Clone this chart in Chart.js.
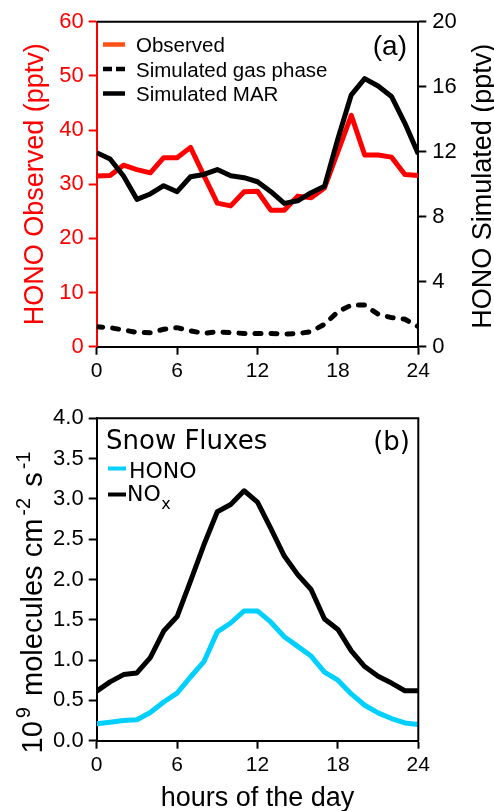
<!DOCTYPE html>
<html>
<head>
<meta charset="utf-8">
<title>HONO diurnal cycle</title>
<script src="https://cdn.jsdelivr.net/npm/chart.js@4.4.0/dist/chart.umd.min.js"></script>
<style>
  html, body { margin: 0; padding: 0; background: #fff; }
  #wrap { position: relative; width: 494px; height: 811px; overflow: hidden; }
  canvas { position: absolute; left: 0; }
  #chartA { top: 0; }
  #chartB { top: 400px; }
</style>
</head>
<body>
<div id="wrap">
  <canvas id="chartA" width="494" height="400"></canvas>
  <canvas id="chartB" width="494" height="411"></canvas>
</div>
<script>
// Hour of day, shared by both panels
const hours = [0, 1, 2, 3, 4, 5, 6, 7, 8, 9, 10, 11, 12, 13, 14, 15, 16, 17, 18, 19, 20, 21, 22, 23, 24];

// Panel (a): HONO mixing ratios (pptv)
const observedHono = [31.5, 31.6, 33.5, 32.7, 32.1, 34.9, 34.9, 36.8, 31.6, 26.5, 26.0, 28.6, 28.7, 25.2, 25.2, 27.8, 27.5, 29.3, 36.0, 42.7, 35.4, 35.4, 35.0, 31.8, 31.6];
const simGasPhase = [1.23, 1.17, 1.03, 0.88, 0.86, 1.07, 1.17, 0.98, 0.82, 0.92, 0.86, 0.82, 0.82, 0.82, 0.78, 0.80, 0.93, 1.38, 2.15, 2.56, 2.56, 2.0, 1.79, 1.69, 1.23];
const simMar = [11.94, 11.55, 10.5, 9.07, 9.4, 9.91, 9.54, 10.46, 10.6, 10.9, 10.52, 10.4, 10.15, 9.54, 8.82, 8.98, 9.48, 9.87, 12.8, 15.5, 16.5, 16.04, 15.4, 13.75, 11.86];

// Panel (b): snow fluxes (1e9 molecules cm-2 s-1)
const fluxHono = [0.21, 0.23, 0.25, 0.26, 0.35, 0.48, 0.59, 0.79, 0.98, 1.35, 1.46, 1.61, 1.61, 1.47, 1.29, 1.17, 1.05, 0.85, 0.75, 0.58, 0.44, 0.345, 0.275, 0.22, 0.2];
const fluxNox = [0.615, 0.73, 0.82, 0.84, 1.03, 1.36, 1.54, 1.98, 2.43, 2.84, 2.93, 3.1, 2.96, 2.63, 2.29, 2.06, 1.875, 1.51, 1.38, 1.115, 0.92, 0.8, 0.715, 0.62, 0.62];

// Tick labels
const hourTicks = [0, 6, 12, 18, 24];
const observedTicks = [0, 10, 20, 30, 40, 50, 60];
const simulatedTicks = [0, 4, 8, 12, 16, 20];
const fluxTicks = [0, 0.5, 1.0, 1.5, 2.0, 2.5, 3.0, 3.5, 4.0];

const SANS = "'Liberation Sans', Arial, Helvetica, sans-serif";
const DEJAVU = "'DejaVu Sans', Verdana, sans-serif";
const RED = '#ff0000';
const CYAN = '#00d0ff';

function toPoints(values) {
    return hours.map((h, i) => ({ x: h, y: values[i] }));
}

function fixedTicks(list) {
    return function(scale) {
        scale.ticks = list.map(v => ({ value: v }));
    };
}

function tickFont(size) {
    return { family: SANS, size: size };
}

// ---------- Panel (a) ----------
const panelADecor = {
    id: 'panelADecor',
    afterDraw(chart) {
        const ctx = chart.ctx;
        const a = chart.chartArea;
        ctx.save();

        // top frame
        ctx.strokeStyle = '#000';
        ctx.lineWidth = 2;
        ctx.beginPath();
        ctx.moveTo(a.left, a.top);
        ctx.lineTo(a.right + 1, a.top);
        ctx.stroke();

        // legend
        const rows = [
            { label: 'Observed', color: '#ff5014', dash: [] },
            { label: 'Simulated gas phase', color: '#000', dash: [9, 4] },
            { label: 'Simulated MAR', color: '#000', dash: [] }
        ];
        ctx.font = '20.5px ' + SANS;
        ctx.textBaseline = 'alphabetic';
        ctx.textAlign = 'left';
        rows.forEach((r, i) => {
            const y = 44.5 + i * 24.5;
            ctx.strokeStyle = r.color;
            ctx.lineWidth = 4.5;
            ctx.lineCap = 'butt';
            ctx.setLineDash(r.dash);
            ctx.beginPath();
            ctx.moveTo(103, y);
            ctx.lineTo(125, y);
            ctx.stroke();
            ctx.setLineDash([]);
            ctx.fillStyle = '#000';
            ctx.fillText(r.label, 136, y + 7.5);
        });

        // panel label
        ctx.font = '28px ' + SANS;
        ctx.textAlign = 'right';
        ctx.fillText('(a)', 407, 55);

        // axis titles
        ctx.font = '27px ' + SANS;
        ctx.textAlign = 'center';
        ctx.fillStyle = RED;
        ctx.save();
        ctx.translate(43, (a.top + a.bottom) / 2);
        ctx.rotate(-Math.PI / 2);
        ctx.fillText('HONO Observed (pptv)', 0, 0);
        ctx.restore();

        ctx.fillStyle = '#000';
        ctx.save();
        ctx.translate(491, (a.top + a.bottom) / 2 + 2);
        ctx.rotate(-Math.PI / 2);
        ctx.fillText('HONO Simulated (pptv)', 0, 0);
        ctx.restore();

        ctx.restore();
    }
};

new Chart(document.getElementById('chartA'), {
    type: 'line',
    data: {
        datasets: [
            {
                label: 'Simulated MAR',
                data: toPoints(simMar),
                yAxisID: 'ySim',
                borderColor: '#000',
                borderWidth: 5,
                pointRadius: 0,
                tension: 0,
                borderJoinStyle: 'round'
            },
            {
                label: 'Simulated gas phase',
                data: toPoints(simGasPhase),
                yAxisID: 'ySim',
                borderColor: '#000',
                borderWidth: 5,
                borderDash: [6, 10],
                borderCapStyle: 'round',
                pointRadius: 0,
                tension: 0
            },
            {
                label: 'Observed',
                data: toPoints(observedHono),
                yAxisID: 'yObs',
                borderColor: RED,
                borderWidth: 5,
                pointRadius: 0,
                tension: 0,
                borderJoinStyle: 'round'
            }
        ]
    },
    options: {
        responsive: false,
        animation: false,
        events: [],
        layout: { padding: { top: 21.7, left: 0, right: 0, bottom: 0 } },
        plugins: { legend: { display: false }, tooltip: { enabled: false } },
        scales: {
            x: {
                type: 'linear',
                min: 0,
                max: 24,
                afterBuildTicks: fixedTicks(hourTicks),
                afterFit: s => { s.height = 53.3; },
                ticks: { color: '#000', font: tickFont(21), padding: 4, maxRotation: 0 },
                grid: { drawOnChartArea: false, drawTicks: true, tickLength: 8, tickColor: '#000', tickWidth: 2 },
                border: { display: true, color: '#000', width: 2 }
            },
            yObs: {
                type: 'linear',
                position: 'left',
                min: 0,
                max: 60,
                afterBuildTicks: fixedTicks(observedTicks),
                afterFit: s => { s.width = 96.7; },
                ticks: { color: RED, font: tickFont(22), padding: 5 },
                grid: { drawOnChartArea: false, drawTicks: true, tickLength: 8, tickColor: RED, tickWidth: 2 },
                border: { display: true, color: RED, width: 2 }
            },
            ySim: {
                type: 'linear',
                position: 'right',
                min: 0,
                max: 20,
                afterBuildTicks: fixedTicks(simulatedTicks),
                afterFit: s => { s.width = 75.7; },
                ticks: { color: '#000', font: tickFont(22), padding: 6 },
                grid: { drawOnChartArea: false, drawTicks: true, tickLength: 8, tickColor: '#000', tickWidth: 2 },
                border: { display: true, color: '#000', width: 2 }
            }
        }
    },
    plugins: [panelADecor]
});

// ---------- Panel (b) ----------
const panelBDecor = {
    id: 'panelBDecor',
    afterDraw(chart) {
        const ctx = chart.ctx;
        const a = chart.chartArea;
        ctx.save();

        // top and right frame
        ctx.strokeStyle = '#000';
        ctx.lineWidth = 2;
        ctx.beginPath();
        ctx.moveTo(a.left, a.top);
        ctx.lineTo(a.right, a.top);
        ctx.lineTo(a.right, a.bottom);
        ctx.stroke();

        // legend
        ctx.fillStyle = '#000';
        ctx.textAlign = 'left';
        ctx.textBaseline = 'alphabetic';
        ctx.font = '26px ' + DEJAVU;
        ctx.fillText('Snow Fluxes', 106, 48.5);
        ctx.textAlign = 'right';
        ctx.fillText('(b)', 410, 50);

        ctx.lineWidth = 4;
        ctx.strokeStyle = CYAN;
        ctx.beginPath();
        ctx.moveTo(108, 68.5);
        ctx.lineTo(126, 68.5);
        ctx.stroke();
        ctx.strokeStyle = '#000';
        ctx.beginPath();
        ctx.moveTo(108, 94.5);
        ctx.lineTo(126, 94.5);
        ctx.stroke();

        ctx.textAlign = 'left';
        ctx.font = '22px ' + DEJAVU;
        ctx.fillText('HONO', 129, 77.5);
        ctx.fillText('NO', 127, 100.5);
        const noW = ctx.measureText('NO').width;
        ctx.font = '16px ' + DEJAVU;
        ctx.fillText('x', 127 + noW + 0.5, 109);

        // x axis title
        ctx.font = '27px ' + SANS;
        ctx.textAlign = 'center';
        ctx.fillText('hours of the day', (a.left + a.right) / 2, 405.5);

        // y axis title with superscripts
        const big = 29, small = 20, rise = 11.5, gap = 3;
        const parts = [
            { t: '10', s: big, up: 0, pad: 0 },
            { t: '9', s: small, up: rise, pad: gap },
            { t: ' molecules cm', s: big, up: 0, pad: gap },
            { t: '-2', s: small, up: rise, pad: gap },
            { t: ' s', s: big, up: 0, pad: gap },
            { t: '-1', s: small, up: rise, pad: gap }
        ];
        let total = 0;
        parts.forEach(p => {
            ctx.font = p.s + 'px ' + SANS;
            p.w = ctx.measureText(p.t).width;
            total += p.w + p.pad;
        });
        ctx.save();
        ctx.translate(41.5, 202.5);
        ctx.rotate(-Math.PI / 2);
        ctx.textAlign = 'left';
        let x = -total / 2;
        parts.forEach(p => {
            x += p.pad;
            ctx.font = p.s + 'px ' + SANS;
            ctx.fillText(p.t, x, -p.up);
            x += p.w;
        });
        ctx.restore();

        ctx.restore();
    }
};

new Chart(document.getElementById('chartB'), {
    type: 'line',
    data: {
        datasets: [
            {
                label: 'NOx',
                data: toPoints(fluxNox),
                borderColor: '#000',
                borderWidth: 5,
                pointRadius: 0,
                tension: 0,
                borderJoinStyle: 'round'
            },
            {
                label: 'HONO',
                data: toPoints(fluxHono),
                borderColor: CYAN,
                borderWidth: 5,
                pointRadius: 0,
                tension: 0,
                borderJoinStyle: 'round'
            }
        ]
    },
    options: {
        responsive: false,
        animation: false,
        events: [],
        layout: { padding: { top: 15.7, left: 0, right: 75.7, bottom: 0 } },
        plugins: { legend: { display: false }, tooltip: { enabled: false } },
        scales: {
            x: {
                type: 'linear',
                min: 0,
                max: 24,
                afterBuildTicks: fixedTicks(hourTicks),
                afterFit: s => { s.height = 70.3; },
                ticks: { color: '#000', font: tickFont(21), padding: 4, maxRotation: 0 },
                grid: { drawOnChartArea: false, drawTicks: true, tickLength: 8, tickColor: '#000', tickWidth: 2 },
                border: { display: true, color: '#000', width: 2 }
            },
            y: {
                type: 'linear',
                position: 'left',
                min: 0,
                max: 4,
                afterBuildTicks: fixedTicks(fluxTicks),
                afterFit: s => { s.width = 96.7; },
                ticks: {
                    color: '#000',
                    font: tickFont(22),
                    padding: 5,
                    callback: v => v.toFixed(1)
                },
                grid: { drawOnChartArea: false, drawTicks: true, tickLength: 8, tickColor: '#000', tickWidth: 2 },
                border: { display: true, color: '#000', width: 2 }
            }
        }
    },
    plugins: [panelBDecor]
});
</script>
</body>
</html>
